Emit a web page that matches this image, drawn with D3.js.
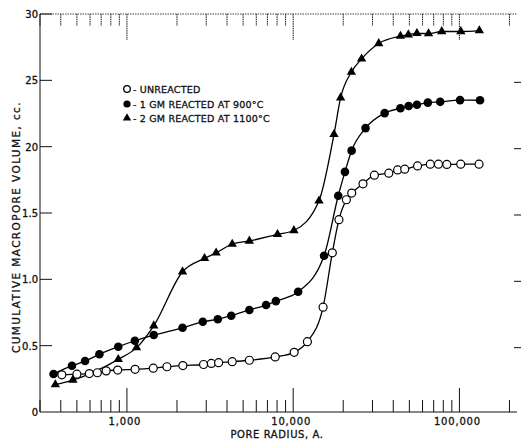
<!DOCTYPE html>
<html>
<head>
<meta charset="utf-8">
<script src="https://cdn.jsdelivr.net/npm/d3@7"></script>
<style>
  html, body { margin: 0; padding: 0; background: #fff; }
  svg { display: block; }
  text { font-family: "DejaVu Sans", sans-serif; fill: #111; stroke: #111; stroke-width: 0.3; }
</style>
</head>
<body>
<svg id="chart" width="522" height="441"></svg>
<script>
// ---- data (pore radius in Å, cumulative macropore volume in cc) ----
const unreactedRadius = [406, 500, 594, 664, 750, 880, 1120, 1440, 1740, 2170, 2890, 3220, 3560, 4300, 5450, 7800, 10140, 12180, 15130, 17200, 18850, 20900, 22500, 26300, 30800, 37600, 42500, 46900, 56000, 66800, 74800, 84000, 101800, 131200];
const unreactedVolume = [0.28, 0.285, 0.29, 0.296, 0.31, 0.316, 0.322, 0.33, 0.341, 0.35, 0.358, 0.366, 0.372, 0.379, 0.39, 0.415, 0.45, 0.53, 0.79, 1.2, 1.45, 1.6, 1.65, 1.72, 1.785, 1.8, 1.825, 1.83, 1.855, 1.868, 1.868, 1.866, 1.868, 1.868];

const reacted900Radius = [362, 467, 560, 683, 887, 1116, 1450, 2160, 2860, 3520, 4240, 5450, 6870, 7870, 10710, 15340, 18670, 20480, 22470, 27250, 35500, 44160, 49520, 55510, 64590, 76620, 100900, 133000];
const reacted900Volume = [0.286, 0.349, 0.384, 0.435, 0.492, 0.537, 0.58, 0.635, 0.68, 0.699, 0.726, 0.769, 0.806, 0.836, 0.906, 1.178, 1.63, 1.81, 1.97, 2.14, 2.253, 2.29, 2.306, 2.316, 2.332, 2.338, 2.351, 2.35];

const reacted1100Radius = [371, 473, 887, 1143, 1450, 2160, 2930, 3440, 4300, 5450, 8050, 10100, 14300, 17600, 19300, 22400, 25800, 32700, 44200, 49300, 55500, 65200, 78300, 102000, 131800];
const reacted1100Volume = [0.207, 0.241, 0.397, 0.485, 0.65, 1.057, 1.158, 1.2, 1.266, 1.289, 1.339, 1.368, 1.592, 2.093, 2.369, 2.562, 2.662, 2.778, 2.833, 2.844, 2.854, 2.852, 2.868, 2.868, 2.875];

const legendLabels = ["- UNREACTED", "- 1 GM REACTED AT 900°C", "- 2 GM REACTED AT 1100°C"];
const xMajorTicks = [1000, 10000, 100000];
const xTickLabels = ["1,000", "10,000", "100,000"];
const yTicks = [0, 0.5, 1.0, 1.5, 2.0, 2.5, 3.0];
const yTickLabels = ["0", "0.5", "1.0", "1.5", "20", "25", "30"];
const xTitle = "PORE RADIUS, A.";
const yTitle = "CUMULATIVE MACROPORE VOLUME, cc.";

// ---- layout ----
const svg = d3.select("#chart");
const pL = 40, pR = 517, pT = 14, pB = 412;
const x = d3.scaleLog().domain([300, 222000]).range([pL, pR]);
const y = d3.scaleLinear().domain([0, 3]).range([pB, pT]);

const zip = (a, b) => a.map((v, i) => [v, b[i]]);
const unreacted = zip(unreactedRadius, unreactedVolume);
const r900 = zip(reacted900Radius, reacted900Volume);
const r1100 = zip(reacted1100Radius, reacted1100Volume);

// ---- frame ----
const ink = "#111";
svg.append("line").attr("x1", pL).attr("x2", pL).attr("y1", pT).attr("y2", pB)
  .attr("stroke", ink).attr("stroke-width", 1);
svg.append("line").attr("x1", pL).attr("x2", pR).attr("y1", pB).attr("y2", pB)
  .attr("stroke", ink).attr("stroke-width", 1);
svg.append("line").attr("x1", pL).attr("x2", pR).attr("y1", pT).attr("y2", pT)
  .attr("stroke", ink).attr("stroke-width", 0.8).attr("stroke-dasharray", "1.5,1");

// x ticks (log): minor and major on bottom and top
const allXTicks = [];
for (let dec = 100; dec <= 100000; dec *= 10) {
  for (let m = 1; m <= 9; m++) {
    const v = dec * m;
    if (v >= 300 && v <= 222000) allXTicks.push(v);
  }
}
const isMajor = v => xMajorTicks.includes(v);
svg.append("g").selectAll("line").data(allXTicks).join("line")
  .attr("x1", d => x(d)).attr("x2", d => x(d))
  .attr("y1", pB).attr("y2", d => pB - (isMajor(d) ? 24 : 12))
  .attr("stroke", ink).attr("stroke-width", 1);
svg.append("g").selectAll("line").data(allXTicks).join("line")
  .attr("x1", d => x(d)).attr("x2", d => x(d))
  .attr("y1", pT).attr("y2", d => pT + (isMajor(d) ? 26 : 12))
  .attr("stroke", ink).attr("stroke-width", 1).attr("stroke-dasharray", "1.5,0.8");
svg.append("g").selectAll("text").data(xMajorTicks).join("text")
  .attr("x", d => x(d) - 2).attr("y", 425)
  .attr("text-anchor", "middle").attr("font-size", 10).attr("letter-spacing", 0.8)
  .text((d, i) => xTickLabels[i]);

// y ticks
svg.append("g").selectAll("line").data(yTicks.filter(d => d > 0)).join("line")
  .attr("x1", pL).attr("x2", pL + 12)
  .attr("y1", d => y(d)).attr("y2", d => y(d))
  .attr("stroke", ink).attr("stroke-width", 1);
svg.append("g").selectAll("line").data(yTicks.filter(d => d > 0 && d < 3)).join("line")
  .attr("x1", pR - 3).attr("x2", pR + 4)
  .attr("y1", d => y(d) + 2).attr("y2", d => y(d) + 2)
  .attr("stroke", ink).attr("stroke-width", 1);
svg.append("g").selectAll("text").data(yTicks).join("text")
  .attr("x", 38).attr("y", d => y(d) + 4)
  .attr("text-anchor", "end").attr("font-size", 10)
  .text((d, i) => yTickLabels[i]);

// titles
svg.append("text").attr("x", 277).attr("y", 438).attr("text-anchor", "middle")
  .attr("font-size", 10).attr("letter-spacing", 0.6).text(xTitle);
svg.append("text").attr("transform", "translate(20,227) rotate(-90)")
  .attr("text-anchor", "middle").attr("font-size", 10.5).attr("letter-spacing", 1.4)
  .text(yTitle);

// ---- lines ----
const line = d3.line().x(d => x(d[0])).y(d => y(d[1])).curve(d3.curveMonotoneX);
[unreacted, r900, r1100].forEach(s => {
  svg.append("path").datum(s).attr("d", line)
    .attr("fill", "none").attr("stroke", "#000").attr("stroke-width", 1.3);
});

// ---- markers ----
svg.append("g").selectAll("circle").data(unreacted).join("circle")
  .attr("cx", d => x(d[0])).attr("cy", d => y(d[1])).attr("r", 4)
  .attr("fill", "#fff").attr("stroke", "#000").attr("stroke-width", 1.2);
svg.append("g").selectAll("circle").data(r900).join("circle")
  .attr("cx", d => x(d[0])).attr("cy", d => y(d[1])).attr("r", 4.3)
  .attr("fill", "#000");
const tri = d3.symbol(d3.symbolTriangle).size(38);
svg.append("g").selectAll("path").data(r1100).join("path")
  .attr("transform", d => `translate(${x(d[0])},${y(d[1])})`)
  .attr("d", tri).attr("fill", "#000");

// ---- legend ----
const lg = svg.append("g");
const ly = [89, 104, 118];
lg.append("circle").attr("cx", 127).attr("cy", ly[0]).attr("r", 3.3)
  .attr("fill", "#fff").attr("stroke", "#000").attr("stroke-width", 1.3);
lg.append("circle").attr("cx", 127).attr("cy", ly[1]).attr("r", 3.6).attr("fill", "#000");
lg.append("path").attr("transform", `translate(127,${ly[2]})`)
  .attr("d", d3.symbol(d3.symbolTriangle).size(30)).attr("fill", "#000");
lg.selectAll("text").data(legendLabels).join("text")
  .attr("x", 133).attr("y", (d, i) => ly[i] + 3.5)
  .attr("font-size", 9.5).attr("letter-spacing", 0.2)
  .text(d => d);
</script>
</body>
</html>
